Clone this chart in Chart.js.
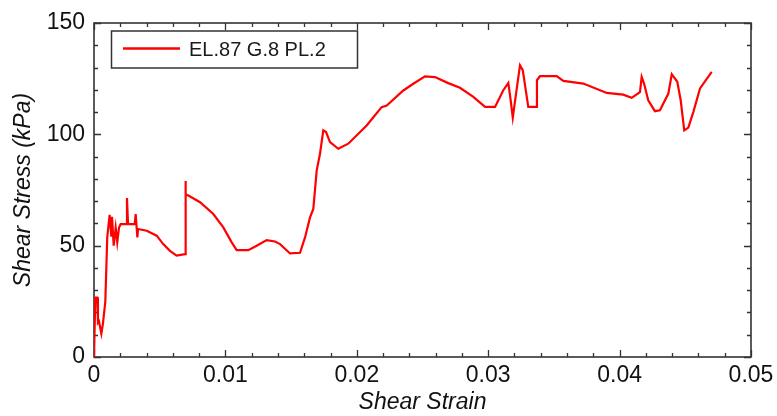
<!DOCTYPE html>
<html>
<head>
<meta charset="utf-8">
<script src="https://cdn.jsdelivr.net/npm/chart.js@4.4.0/dist/chart.umd.min.js"></script>
<style>
  html, body { margin: 0; padding: 0; background: #ffffff; }
  canvas { display: block; }
</style>
</head>
<body>
<canvas id="c" width="777" height="416"></canvas>
<script>
// ---- data ----
const seriesLabel = 'EL.87 G.8 PL.2';
const shearStrain = [
  0, 0.00010, 0.00025, 0.00030, 0.00038, 0.00056, 0.00068, 0.00086, 0.00101, 0.00119,
  0.00132, 0.00137, 0.00150, 0.00165, 0.00177, 0.00190, 0.00203, 0.00246, 0.00251, 0.00259,
  0.00310, 0.00317, 0.00330, 0.00335, 0.00401, 0.00477, 0.00527, 0.00578, 0.00629, 0.00693,
  0.00695, 0.00700, 0.00718, 0.00807, 0.00908, 0.00984, 0.01048, 0.01086, 0.01174, 0.01238,
  0.01314, 0.01377, 0.01416, 0.01492, 0.01568, 0.01606,
  0.01644, 0.01669, 0.01695, 0.01720, 0.01745, 0.01766, 0.01796, 0.01859, 0.01935, 0.02075,
  0.02126, 0.02189, 0.02228, 0.02354, 0.02430, 0.02519, 0.02595, 0.02696, 0.02785, 0.02887,
  0.02976, 0.03052, 0.03115, 0.03153, 0.03171, 0.03187, 0.03212, 0.03242, 0.03263, 0.03305,
  0.03369, 0.03371, 0.03394, 0.03521, 0.03572, 0.03724, 0.03902, 0.04028, 0.04092, 0.04155,
  0.04168, 0.04186, 0.04218, 0.04269, 0.04307, 0.04371, 0.04397, 0.04439, 0.04465, 0.04492,
  0.04523, 0.04561, 0.04612, 0.04701
];
const shearStress = [
  0, 26.7, 26.7, 15.4, 16.0, 10.5, 15.0, 24.8, 54.0, 63.8,
  54.0, 63.0, 50.0, 58.0, 51.5, 58.0, 59.7, 59.7, 71.4, 59.7,
  59.7, 64.2, 53.7, 57.5, 56.7, 54.5, 50.7, 47.7, 45.5, 46.2,
  79.0, 73.0, 72.5, 69.5, 64.2, 58.2, 51.5, 48.0, 48.0, 50.0,
  52.5, 51.9, 50.7, 46.5, 46.8, 53.7,
  62.7, 66.5, 83.8, 91.3, 101.8, 101.0, 96.5, 93.5, 95.8, 104.0,
  107.7, 112.2, 112.9, 119.7, 122.7, 126.0, 125.7, 123.0, 120.9, 116.8,
  112.3, 112.3, 119.8, 123.1, 115.3, 107.5, 118.3, 131.0, 128.8, 112.3,
  112.3, 124.3, 126.1, 126.1, 124.0, 122.8, 118.6, 117.8, 116.4, 119.0,
  125.8, 122.8, 115.3, 110.4, 110.8, 118.3, 127.0, 123.6, 115.3, 101.8,
  103.0, 110.0, 120.6, 128.0
];
const xTickValues = [0, 0.01, 0.02, 0.03, 0.04, 0.05];
const yTickValues = [0, 50, 100, 150];
const xTitle = 'Shear Strain';
const yTitle = 'Shear Stress (kPa)';

const points = shearStrain.map((x, i) => ({ x: x, y: shearStress[i] }));
const FONT = "'Liberation Sans', Arial, sans-serif";
const AXIS_COLOR = '#333333';

const framePlugin = {
  id: 'frame',
  beforeDatasetsDraw(chart) {
    const { ctx, chartArea: a, scales: { x, y } } = chart;
    ctx.save();
    ctx.strokeStyle = AXIS_COLOR;
    ctx.lineWidth = 1.6;
    ctx.strokeRect(a.left, a.top, a.right - a.left, a.bottom - a.top);
    ctx.lineWidth = 1.3;
    ctx.beginPath();
    for (let i = 0; i <= 25; i++) {
      const v = i * 0.002;
      const px = Math.round(x.getPixelForValue(v)) + 0.5;
      const len = (i % 5 === 0) ? 7 : 4;
      ctx.moveTo(px, a.bottom); ctx.lineTo(px, a.bottom - len);
      ctx.moveTo(px, a.top); ctx.lineTo(px, a.top + len);
    }
    for (let i = 0; i <= 15; i++) {
      const v = i * 10;
      const py = Math.round(y.getPixelForValue(v)) + 0.5;
      const len = (i % 5 === 0) ? 7 : 4;
      ctx.moveTo(a.left, py); ctx.lineTo(a.left + len, py);
      ctx.moveTo(a.right, py); ctx.lineTo(a.right - len, py);
    }
    ctx.stroke();
    ctx.restore();
  },
  afterDraw(chart) {
    const ctx = chart.ctx;
    ctx.save();
    ctx.fillStyle = '#ffffff';
    ctx.fillRect(111.5, 31, 246, 37);
    ctx.strokeStyle = AXIS_COLOR;
    ctx.lineWidth = 1.5;
    ctx.strokeRect(111.5, 31, 246, 37);
    ctx.strokeStyle = '#ff0000';
    ctx.lineWidth = 2.5;
    ctx.beginPath();
    ctx.moveTo(123, 48.5); ctx.lineTo(180, 48.5);
    ctx.stroke();
    ctx.fillStyle = '#1a1a1a';
    ctx.font = '20px ' + FONT;
    ctx.textBaseline = 'middle';
    ctx.textAlign = 'left';
    ctx.fillText(seriesLabel, 189, 50);
    ctx.restore();
  }
};

new Chart(document.getElementById('c'), {
  type: 'line',
  data: {
    datasets: [{
      label: seriesLabel,
      data: points,
      borderColor: '#ff0000',
      backgroundColor: '#ff0000',
      borderWidth: 2.2,
      pointRadius: 0,
      tension: 0,
      fill: false
    }]
  },
  options: {
    responsive: false,
    animation: false,
    layout: { padding: { top: 23, right: 26, left: 0, bottom: 0 } },
    plugins: { legend: { display: false }, tooltip: { enabled: false } },
    scales: {
      x: {
        type: 'linear',
        min: 0, max: 0.05,
        afterBuildTicks: s => { s.ticks = xTickValues.map(v => ({ value: v })); },
        grid: { display: false, drawTicks: false },
        border: { display: false },
        ticks: {
          padding: 5,
          color: '#111111',
          font: { family: FONT, size: 23 },
          maxRotation: 0,
          callback: v => (v === 0 ? '0' : Number(v).toFixed(2))
        },
        title: {
          display: true, text: xTitle, color: '#111111',
          font: { family: FONT, size: 23, style: 'italic' },
          padding: { top: 0, bottom: 0 }
        },
        afterFit: s => { s.height = 59; s.paddingLeft = 0; s.paddingRight = 0; }
      },
      y: {
        type: 'linear',
        min: 0, max: 150,
        afterBuildTicks: s => { s.ticks = yTickValues.map(v => ({ value: v })); },
        grid: { display: false, drawTicks: false },
        border: { display: false },
        ticks: {
          padding: 9,
          color: '#111111',
          font: { family: FONT, size: 23 },
          callback: v => String(v)
        },
        title: {
          display: true, text: yTitle, color: '#111111',
          font: { family: FONT, size: 23, style: 'italic' },
          padding: { top: 10, bottom: 0 }
        },
        afterFit: s => { s.width = 94; s.paddingTop = 0; s.paddingBottom = 0; }
      }
    }
  },
  plugins: [framePlugin]
});
</script>
</body>
</html>
